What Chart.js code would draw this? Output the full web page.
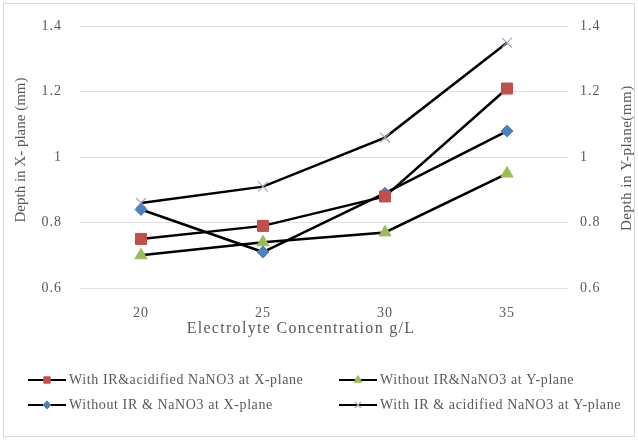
<!DOCTYPE html>
<html>
<head>
<meta charset="utf-8">
<script src="https://cdn.jsdelivr.net/npm/chart.js@4/dist/chart.umd.min.js"></script>
<style>
  body { margin: 0; background: #fff; }
  #wrap { width: 638px; height: 440px; }
</style>
</head>
<body>
<div id="wrap"><canvas id="grafico" width="638" height="440"></canvas></div>
<script>
// Dados
const concentracoes = ["20", "25", "30", "35"];
const comIrX = [0.75, 0.79, 0.88, 1.21];
const semIrX = [0.84, 0.71, 0.89, 1.08];
const semIrY = [0.70, 0.74, 0.77, 0.95];
const comIrY = [0.86, 0.91, 1.06, 1.35];

const tituloX = "Electrolyte Concentration g/L";
const tituloYEsq = "Depth in X- plane (mm)";
const tituloYDir = "Depth in Y-plane(mm)";

const fonte = "'Liberation Serif', 'Times New Roman', serif";
const cinzaTexto = "#595959";

// posição de cada item da legenda
const legendaPos = [
  { x: 28, y: 380 },
  { x: 28, y: 405 },
  { x: 339, y: 380 },
  { x: 339, y: 405 },
];
const legendaMarcador = [4.5, 4, 4.5, 4.5];

function textoGirado(ctx, texto, x, y, espaco) {
  ctx.save();
  ctx.letterSpacing = espaco;
  ctx.translate(x, y);
  ctx.rotate(-Math.PI / 2);
  ctx.fillText(texto, 0, 0);
  ctx.restore();
}

// Moldura, títulos dos eixos e legenda
const extras = {
  id: "extras",
  beforeDraw(chart) {
    // o original parece esticado na horizontal
    chart.ctx.letterSpacing = "1px";
  },
  afterDraw(chart) {
    const ctx = chart.ctx;
    const area = chart.chartArea;
    ctx.save();
    ctx.letterSpacing = "0px";
    ctx.strokeStyle = "#d9d9d9";
    ctx.lineWidth = 1;
    ctx.strokeRect(3.5, 3.5, 631, 433);

    ctx.fillStyle = cinzaTexto;
    ctx.font = "15px " + fonte;
    ctx.textAlign = "center";
    ctx.textBaseline = "middle";
    textoGirado(ctx, tituloYEsq, 21, 150, "0px");
    textoGirado(ctx, tituloYDir, 627, (area.top + area.bottom) / 2 + 1, "0.5px");

    ctx.font = "16px " + fonte;
    ctx.textBaseline = "alphabetic";
    ctx.letterSpacing = "1.3px";
    ctx.fillText(tituloX, 301, 333);
    ctx.restore();

    // legenda 2x2
    chart.data.datasets.forEach((ds, i) => {
      const p = legendaPos[i];
      ctx.save();
      ctx.strokeStyle = "#000";
      ctx.lineWidth = 2;
      ctx.beginPath();
      ctx.moveTo(p.x, p.y);
      ctx.lineTo(p.x + 38, p.y);
      ctx.stroke();
      ctx.fillStyle = ds.pointBackgroundColor;
      ctx.strokeStyle = ds.pointBorderColor;
      ctx.lineWidth = ds.pointBorderWidth;
      Chart.helpers.drawPoint(ctx, {
        pointStyle: ds.pointStyle,
        radius: legendaMarcador[i],
        borderWidth: ds.pointBorderWidth,
        rotation: 0,
      }, p.x + 19, p.y);
      ctx.fillStyle = cinzaTexto;
      ctx.font = "14px " + fonte;
      ctx.letterSpacing = "0.6px";
      ctx.textAlign = "left";
      ctx.textBaseline = "middle";
      ctx.fillText(ds.label, p.x + 41, p.y);
      ctx.restore();
    });
  },
};

function serie(label, data, style, radius, fill, border, bw) {
  return {
    label: label,
    data: data,
    yAxisID: "y",
    borderColor: "#000",
    borderWidth: 2.5,
    tension: 0,
    pointStyle: style,
    pointRadius: radius,
    pointHoverRadius: radius,
    pointBackgroundColor: fill,
    pointBorderColor: border,
    pointBorderWidth: bw,
  };
}

const rotuloTick = (v) => parseFloat(v.toFixed(1)).toString();

const ctx = document.getElementById("grafico").getContext("2d");
new Chart(ctx, {
  type: "line",
  data: {
    labels: concentracoes,
    datasets: [
      serie("With IR&acidified NaNO3 at X-plane", comIrX, "rect", 7.8, "#C0504D", "#C0504D", 1),
      serie("Without IR & NaNO3 at X-plane", semIrX, "rectRot", 6, "#4F81BD", "#4F81BD", 1),
      serie("Without IR&NaNO3 at Y-plane", semIrY, "triangle", 7, "#9BBB59", "#9BBB59", 1),
      serie("With IR & acidified NaNO3 at Y-plane", comIrY, "crossRot", 7, "#9fa9bb", "#9fa9bb", 1.2),
    ],
  },
  options: {
    responsive: false,
    animation: false,
    layout: { padding: { top: 17, bottom: 100, left: 0, right: 0 } },
    plugins: {
      legend: { display: false },
      tooltip: { enabled: false },
    },
    scales: {
      x: {
        offset: true,
        grid: { display: false },
        border: { display: false },
        ticks: { color: cinzaTexto, font: { family: fonte, size: 14 }, padding: 9 },
        afterFit(scale) { scale.height = 52; },
      },
      y: {
        position: "left",
        min: 0.6,
        max: 1.4,
        ticks: {
          stepSize: 0.2,
          color: cinzaTexto,
          font: { family: fonte, size: 14 },
          padding: 18,
          callback: rotuloTick,
        },
        grid: { color: "#dedede", lineWidth: 1, drawTicks: false },
        border: { display: false },
        afterFit(scale) { scale.width = 80; },
      },
      y2: {
        position: "right",
        min: 0.6,
        max: 1.4,
        ticks: {
          stepSize: 0.2,
          color: cinzaTexto,
          font: { family: fonte, size: 14 },
          padding: 12,
          callback: rotuloTick,
        },
        grid: { display: false, drawTicks: false },
        border: { display: false },
        afterFit(scale) { scale.width = 70; },
      },
    },
  },
  plugins: [extras],
});
</script>
</body>
</html>
